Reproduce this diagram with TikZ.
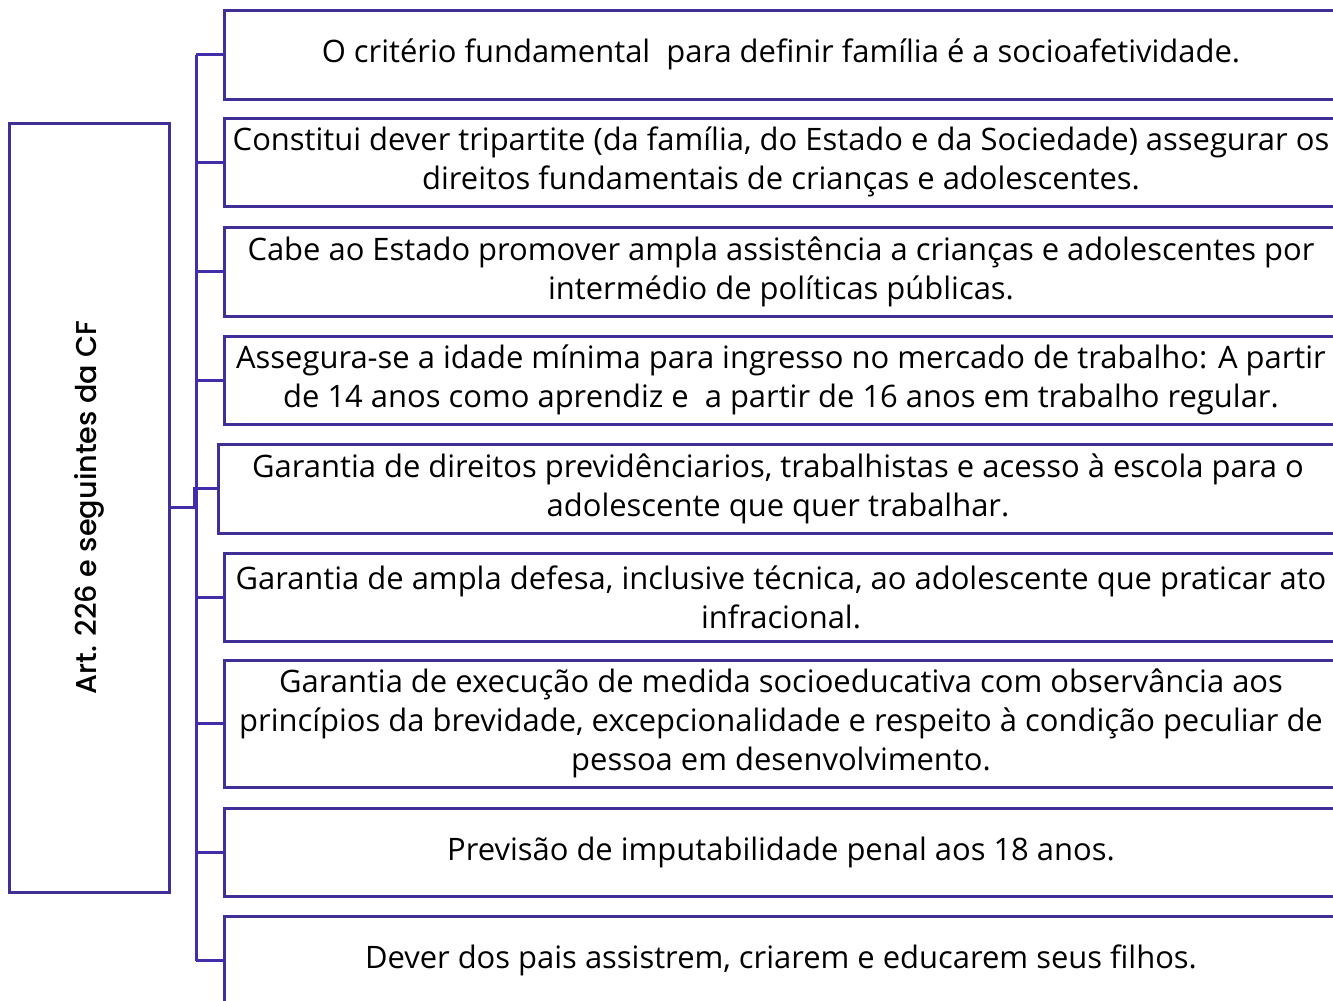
\documentclass[tikz,border=0pt]{standalone}
\usepackage{fontspec}
\setmainfont{Open Sans}
\newfontfamily\leftfont{Poppins Medium}
\usetikzlibrary{calc}
\definecolor{boxcol}{RGB}{62,48,150}
\definecolor{linecol}{RGB}{66,46,170}
\def\u{0.75pt}
\tikzset{
  x=0.75pt, y=-0.75pt,
  itembox/.style={draw=boxcol, line width=3*\u, fill=white, rectangle,
    minimum width=1114*\u, inner sep=0pt, align=center,
    font=\fontsize{23.2pt}{29.25pt}\selectfont},
  conn/.style={draw=linecol, line width=3*\u},
}
\begin{document}
\begin{tikzpicture}
\useasboundingbox (0,0) rectangle (1333,1000);
\begin{scope}
\clip (0,0) rectangle (1333,1000);
\node[itembox, minimum height=89*\u] (b1) at (781,54.5) {O critério fundamental\ \ para definir família é a socioafetividade.};
\node[itembox, minimum height=88*\u] (b2) at (781,162) {Constitui dever tripartite (da família, do Estado e da Sociedade) assegurar os\\direitos fundamentais de crianças e adolescentes.};
\node[itembox, minimum height=89*\u] (b3) at (781,271.5) {Cabe ao Estado promover ampla assistência a crianças e adolescentes por\\intermédio de políticas públicas.};
\node[itembox, minimum height=88*\u] (b4) at (781,380) {Assegura-se a idade mínima para ingresso no mercado de trabalho: A partir\\de 14 anos como aprendiz e\ \ a partir de 16 anos em trabalho regular.};
\node[itembox, minimum height=89*\u, minimum width=1120*\u] (b5) at (778,488.5) {Garantia de direitos previdênciarios, trabalhistas e acesso à escola para o\\adolescente que quer trabalhar.};
\node[itembox, minimum height=88*\u] (b6) at (781,597) {Garantia de ampla defesa, inclusive técnica, ao adolescente que praticar ato\\infracional.};
\node[itembox, minimum height=127*\u] (b7) at (781,723.5) {Garantia de execução de medida socioeducativa com observância aos\\princípios da brevidade, excepcionalidade e respeito à condição peculiar de\\pessoa em desenvolvimento.};
\node[itembox, minimum height=88*\u] (b8) at (781,852) {Previsão de imputabilidade penal aos 18 anos.};
\node[itembox, minimum height=89*\u] (b9) at (781,960.5) {Dever dos pais assistrem, criarem e educarem seus filhos.};
\end{scope}
\node[draw=boxcol, line width=3*\u, fill=white, rectangle, minimum width=160*\u, minimum height=769*\u, inner sep=0pt] (L) at (89,507.5) {};
\node[rotate=90, font=\leftfont\fontsize{21.5pt}{25pt}\selectfont] (Lt) at (L.center) {Art. 226 e seguintes da CF};
\coordinate (trunk) at (196,0);
\draw[conn] (b1.west -| trunk) -- (b9.west -| trunk);
\foreach \i in {1,...,9} {
  \draw[conn] (b\i.west -| trunk) -- (b\i.west);
}
\draw[conn] (L.east) -- ($(L.east)+(24,0)$) |- (b5.west);
\end{tikzpicture}
\end{document}
